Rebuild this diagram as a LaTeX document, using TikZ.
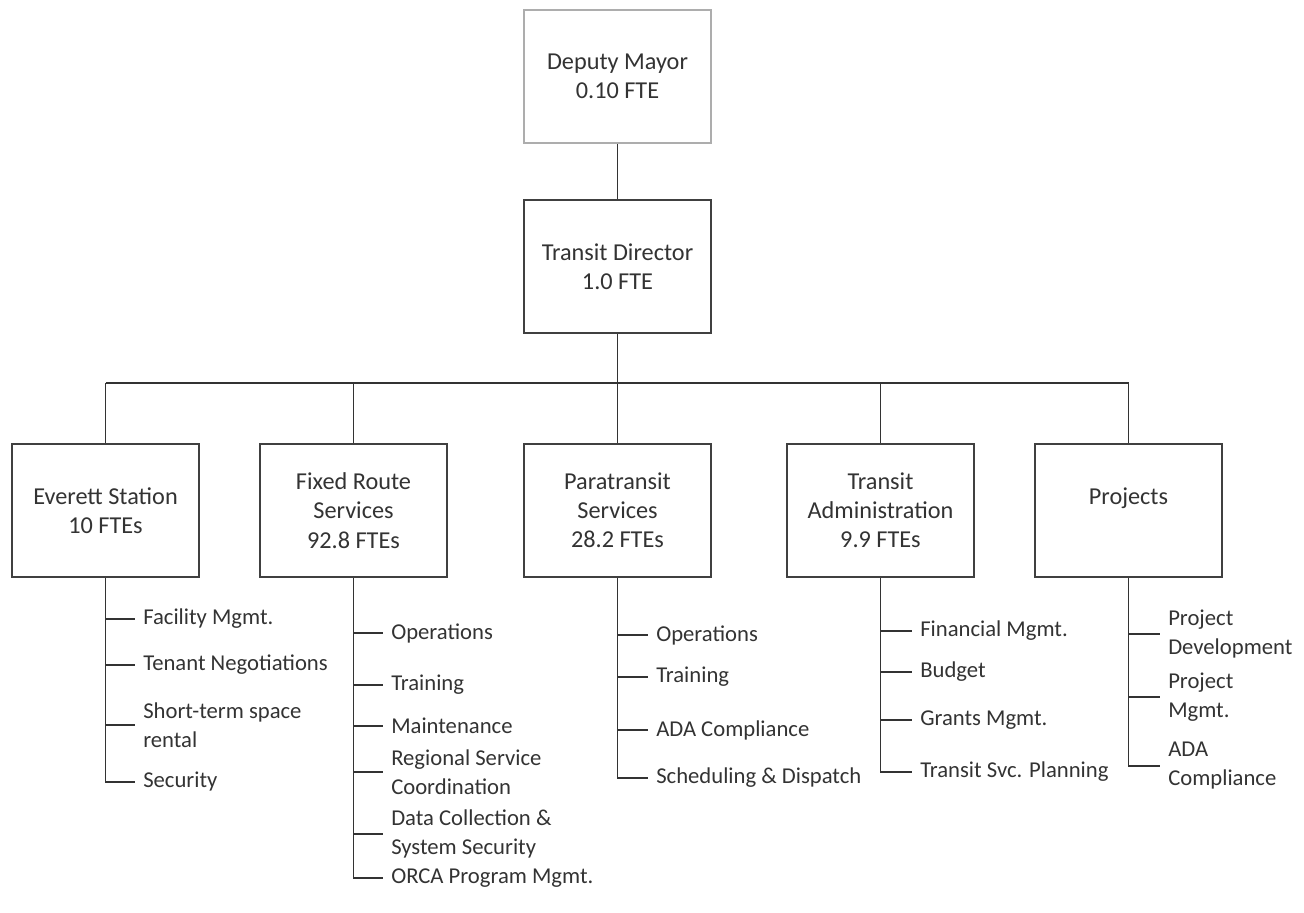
\documentclass[tikz,border=0pt]{standalone}
\usepackage{fontspec}
\setmainfont{Carlito}
\begin{document}
\begin{tikzpicture}[x=0.75pt,y=-0.75pt,
  font=\fontsize{17}{21.75}\selectfont,
  orgbox/.style={draw=black!75, line width=1.6pt, fill=white, text=black!80,
    font=\fontsize{18.2}{21.9}\selectfont,
    minimum width=140.25pt, minimum height=99.75pt, align=center, inner sep=0pt},
  topbox/.style={orgbox, draw=black!32},
  item/.style={anchor=west, align=left, text=black!80, inner xsep=6pt, inner ysep=0pt},
  link/.style={draw=black!80, line width=1.4pt}
]
\useasboundingbox (0,0) rectangle (1304,913);
% top
\node[topbox] (dm) at (617.5,76.5) {Deputy Mayor\\0.10 FTE};
\node[orgbox] (td) at (617.5,266.5) {Transit Director\\1.0 FTE};
% departments
\node[orgbox] (es) at (105.5,510.5) {Everett Station\\10 FTEs};
\node[orgbox] (fr) at (353.5,510.5) {Fixed Route\\Services\\92.8 FTEs};
\node[orgbox] (pt) at (617.5,510.5) {Paratransit\\Services\\28.2 FTEs};
\node[orgbox] (ta) at (880.5,510.5) {Transit\\Administration\\9.9 FTEs};
\node[orgbox] (pj) at (1128.5,510.5) {Projects\\\mbox{}};
\coordinate (bus) at (617.5,383);
% connectors between boxes
\draw[link] (dm.south) -- (td.north);
\draw[link] (td.south) -- (bus);
\draw[link] (es.north |- bus) -- (pj.north |- bus);
\foreach \b in {es,fr,pt,ta,pj} \draw[link] (\b.north |- bus) -- (\b.north);
% Everett Station items
\node[item] (es1) at (135,619) {Facility Mgmt.};
\node[item] (es2) at (135,665) {Tenant Negotiations};
\node[item] (es3) at (135,725) {Short-term space\\rental};
\node[item] (es4) at (135,782) {Security};
% Fixed Route items
\node[item] (fr1) at (383,633) {Operations};
\node[item] (fr2) at (383,685) {Training};
\node[item] (fr3) at (383,726) {Maintenance};
\node[item] (fr4) at (383,772) {Regional Service\\Coordination};
\node[item] (fr5) at (383,834) {Data Collection \&\\System Security};
\node[item] (fr6) at (383,878) {ORCA Program Mgmt.};
% Paratransit items
\node[item] (pt1) at (648,635) {Operations};
\node[item] (pt2) at (648,677) {Training};
\node[item] (pt3) at (648,730) {ADA Compliance};
\node[item] (pt4) at (648,778) {Scheduling \& Dispatch};
% Transit Administration items
\node[item] (ta1) at (912,631) {Financial Mgmt.};
\node[item] (ta2) at (912,672) {Budget};
\node[item] (ta3) at (912,720) {Grants Mgmt.};
\node[item] (ta4) at (912,772) {Transit Svc. Planning};
% Projects items
\node[item] (pj1) at (1160,634) {Project\\Development};
\node[item] (pj2) at (1160,697) {Project\\Mgmt.};
\node[item] (pj3) at (1160,766) {ADA\\Compliance};
% item connectors
\foreach \i in {1,...,4} \draw[link] (es.south) |- (es\i.west);
\foreach \i in {1,...,6} \draw[link] (fr.south) |- (fr\i.west);
\foreach \i in {1,...,4} \draw[link] (pt.south) |- (pt\i.west);
\foreach \i in {1,...,4} \draw[link] (ta.south) |- (ta\i.west);
\foreach \i in {1,...,3} \draw[link] (pj.south) |- (pj\i.west);
\end{tikzpicture}
\end{document}
